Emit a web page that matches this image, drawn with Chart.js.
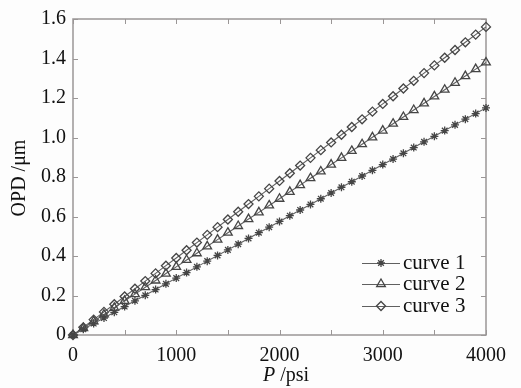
<!DOCTYPE html>
<html><head><meta charset="utf-8">
<script src="https://cdn.jsdelivr.net/npm/chart.js@4/dist/chart.umd.min.js"></script>
<style>html,body{margin:0;padding:0;background:#fdfdfd;}#wrap{width:521px;height:388px;}</style>
</head><body><div id="wrap"><canvas id="c" width="521" height="388"></canvas></div>
<script>
const pressure = [0,100,200,300,400,500,600,700,800,900,1000,1100,1200,1300,1400,1500,1600,1700,1800,1900,2000,2100,2200,2300,2400,2500,2600,2700,2800,2900,3000,3100,3200,3300,3400,3500,3600,3700,3800,3900,4000];
const curve1 = [0,0.029,0.058,0.086,0.115,0.144,0.173,0.201,0.23,0.259,0.288,0.316,0.345,0.374,0.403,0.431,0.46,0.489,0.518,0.546,0.575,0.604,0.633,0.661,0.69,0.719,0.748,0.776,0.805,0.834,0.863,0.891,0.92,0.949,0.978,1.006,1.035,1.064,1.093,1.121,1.15];
const curve2 = [0,0.035,0.069,0.104,0.138,0.173,0.207,0.242,0.276,0.311,0.345,0.38,0.414,0.449,0.483,0.518,0.552,0.587,0.621,0.656,0.69,0.725,0.759,0.794,0.828,0.863,0.897,0.932,0.966,1.001,1.035,1.07,1.104,1.139,1.173,1.208,1.242,1.277,1.311,1.346,1.38];
const curve3 = [0,0.039,0.078,0.117,0.156,0.195,0.234,0.273,0.312,0.351,0.39,0.429,0.468,0.507,0.546,0.585,0.624,0.663,0.702,0.741,0.78,0.819,0.858,0.897,0.936,0.975,1.014,1.053,1.092,1.131,1.17,1.209,1.248,1.287,1.326,1.365,1.404,1.443,1.482,1.521,1.56];
const seriesNames = ['curve 1','curve 2','curve 3'];
const xTickLabels = ['0','1000','2000','3000','4000'];
const yTickLabels = ['0','0.2','0.4','0.6','0.8','1.0','1.2','1.4','1.6'];

const FONT = '"Liberation Serif","DejaVu Serif",serif';
const lineCol = '#606060', markCol = '#454545', frameCol = '#9a9696';
function pts(ys){ return pressure.map((p,i)=>({x:p,y:ys[i]})); }
function ds(label, ys, style, r){
  return {label, data: pts(ys), borderColor: lineCol, borderWidth: 1.1, pointStyle: style,
    pointRadius: r, pointBorderColor: markCol, pointBackgroundColor: 'rgba(255,255,255,0)',
    pointBorderWidth: 1.3, tension: 0, fill: false, clip: false};
}

const framePlugin = {
  id: 'frame',
  beforeDatasetsDraw(chart){
    const ctx = chart.ctx, a = chart.chartArea;
    const xs = chart.scales.x, ys = chart.scales.y;
    ctx.save();
    ctx.strokeStyle = frameCol; ctx.lineWidth = 1.5;
    ctx.strokeRect(a.left, a.top, a.right - a.left, a.bottom - a.top);
    ctx.lineWidth = 1;
    const L = 5;
    ctx.beginPath();
    xs.ticks.forEach(t => { const px = Math.round(xs.getPixelForValue(t.value)) + 0.5;
      ctx.moveTo(px, a.bottom); ctx.lineTo(px, a.bottom - L);
      ctx.moveTo(px, a.top); ctx.lineTo(px, a.top + L); });
    ys.ticks.forEach(t => { const py = Math.round(ys.getPixelForValue(t.value)) + 0.5;
      ctx.moveTo(a.left, py); ctx.lineTo(a.left + L, py);
      ctx.moveTo(a.right, py); ctx.lineTo(a.right - L, py); });
    ctx.stroke();
    ctx.restore();
  },
  afterDraw(chart){
    const ctx = chart.ctx;
    ctx.save();
    // axis titles
    ctx.fillStyle = '#111';
    ctx.textBaseline = 'middle';
    ctx.font = 'italic 20px ' + FONT;
    const w1 = ctx.measureText('P').width;
    ctx.font = '20px ' + FONT;
    const w2 = ctx.measureText(' /psi').width;
    const cx = 286, cy = 376;
    let x0 = cx - (w1 + w2) / 2;
    ctx.textAlign = 'left';
    ctx.font = 'italic 20px ' + FONT; ctx.fillText('P', x0, cy);
    ctx.font = '20px ' + FONT; ctx.fillText(' /psi', x0 + w1, cy);

    ctx.save();
    ctx.translate(20, 178); ctx.rotate(-Math.PI/2);
    ctx.textAlign = 'center'; ctx.font = '20px ' + FONT;
    ctx.fillText('OPD /\u03bcm', 0, 0);
    ctx.restore();

    // legend
    const rows = [263, 284, 306];
    chart.data.datasets.forEach((d, i) => {
      const y = rows[i];
      ctx.strokeStyle = lineCol; ctx.lineWidth = 1.1;
      ctx.beginPath(); ctx.moveTo(362, y + 0.5); ctx.lineTo(400, y + 0.5); ctx.stroke();
      ctx.strokeStyle = markCol; ctx.lineWidth = 1.3; ctx.fillStyle = 'rgba(255,255,255,0)';
      Chart.helpers.drawPoint(ctx, {pointStyle: d.pointStyle, radius: d.pointRadius, rotation: 0, borderWidth: 1.3}, 381, y);
      ctx.fillStyle = '#111'; ctx.font = '21px ' + FONT; ctx.textAlign = 'left'; ctx.textBaseline = 'middle';
      ctx.fillText(d.label, 403, y);
    });
    ctx.restore();
  }
};

new Chart(document.getElementById('c'), {
  type: 'line',
  data: { datasets: [
    ds(seriesNames[0], curve1, 'star', 4),
    ds(seriesNames[1], curve2, 'triangle', 5),
    ds(seriesNames[2], curve3, 'rectRot', 4.5)
  ]},
  options: {
    responsive: false, animation: false, devicePixelRatio: 1,
    layout: { padding: { left: 0, right: 35, top: 12, bottom: 0 } },
    plugins: { legend: { display: false }, tooltip: { enabled: false } },
    scales: {
      x: { type: 'linear', min: 0, max: 4000,
        grid: { display: false, drawTicks: false }, border: { display: false },
        ticks: { stepSize: 500, autoSkip: false, maxRotation: 0, padding: 9, color: '#111',
          font: { family: FONT, size: 20 },
          callback: v => { const i = xTickLabels.indexOf(String(v)); return i >= 0 ? xTickLabels[i] : ''; } },
        afterFit: s => { s.height = 53; } },
      y: { min: 0, max: 1.6,
        grid: { display: false, drawTicks: false }, border: { display: false },
        ticks: { stepSize: 0.2, padding: 7, color: '#111', font: { family: FONT, size: 20 },
          callback: (v, i) => yTickLabels[Math.round(v / 0.2)] },
        afterFit: s => { s.width = 73; } }
    }
  },
  plugins: [framePlugin]
});
</script></body></html>
